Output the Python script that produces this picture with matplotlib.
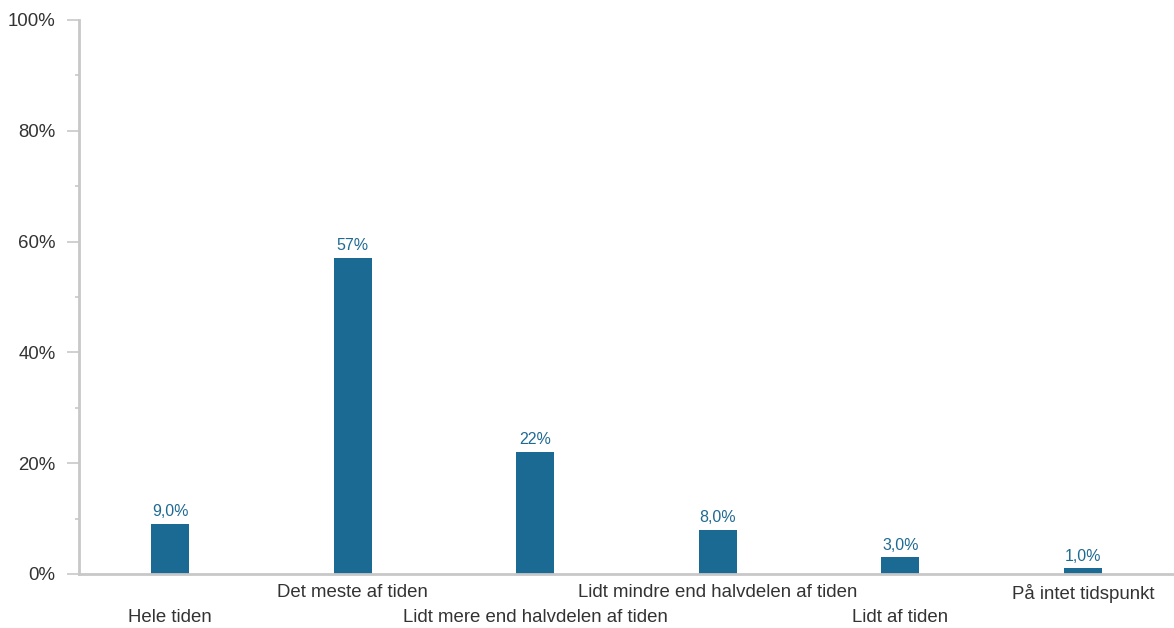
import matplotlib
matplotlib.use("Agg")
import matplotlib.pyplot as plt
from matplotlib.ticker import MultipleLocator, FuncFormatter

categories = ["Hele tiden", "Det meste af tiden", "Lidt mere end halvdelen af tiden",
              "Lidt mindre end halvdelen af tiden", "Lidt af tiden", "På intet tidspunkt"]
values = [9.0, 57.0, 22.0, 8.0, 3.0, 1.0]
value_labels = ["9,0%", "57%", "22%", "8,0%", "3,0%", "1,0%"]

plt.rcParams['font.family'] = ['Liberation Sans', 'DejaVu Sans']

fig = plt.figure(figsize=(11.74, 6.28), dpi=100)
ax = fig.add_axes([79/1174, 1 - 574/628, 1 - 79/1174, (574 - 20)/628])

bar_color = "#1a6a94"
x = list(range(len(categories)))
bars = ax.bar(x, values, width=0.21, color=bar_color, zorder=2)
for xi, v, lab in zip(x, values, value_labels):
    ax.annotate(lab, (xi, v), xytext=(0, 3.5), textcoords="offset points",
                ha="center", va="bottom", fontsize=11.5, color="#1f6a92")

ax.set_xlim(-0.5, 5.5)
ax.set_ylim(0, 100)
ax.yaxis.set_major_locator(MultipleLocator(20))
ax.yaxis.set_minor_locator(MultipleLocator(10))
ax.yaxis.set_major_formatter(FuncFormatter(lambda v, p: f"{int(v)}%"))
ax.tick_params(axis="y", which="major", length=9, width=1.2, color="#c8c8c8",
               labelsize=13.4, labelcolor="#333333", pad=8)
ax.tick_params(axis="y", which="minor", length=3, width=1.2, color="#c8c8c8")

ax.set_xticks(x)
ax.set_xticklabels(categories)
ax.tick_params(axis="x", length=0, labelsize=13.4, labelcolor="#333333")
for i, t in enumerate(ax.xaxis.get_major_ticks()):
    t.set_pad(25 if i % 2 == 0 else 7)

for s in ["top", "right"]:
    ax.spines[s].set_visible(False)
for s in ["left", "bottom"]:
    ax.spines[s].set_color("#c8c8c8")
    ax.spines[s].set_linewidth(2)

fig.savefig("out.png", dpi=100)
